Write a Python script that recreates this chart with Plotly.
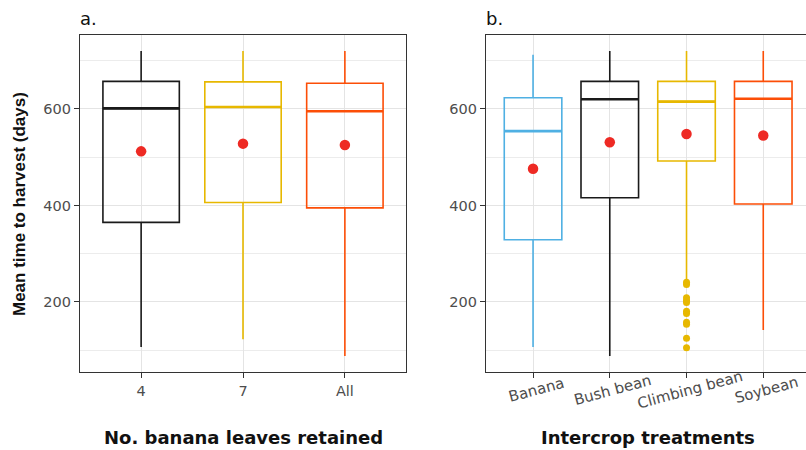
import plotly.graph_objects as go

# Panel a: number of banana leaves retained
leaf_groups = ["4", "7", "All"]
leaf_upper = [720, 720, 720]
leaf_q3 = [657, 656, 653]
leaf_median = [601, 604, 595]
leaf_q1 = [365, 406, 395]
leaf_lower = [107, 123, 88]
leaf_mean = [512, 528, 525]
leaf_colors = ["#1a1a1a", "#E7B800", "#FC4E07"]

# Panel b: intercrop treatments
crop_groups = ["Banana", "Bush bean", "Climbing bean", "Soybean"]
crop_upper = [712, 720, 720, 720]
crop_q3 = [623, 657, 657, 657]
crop_median = [554, 620, 615, 621]
crop_q1 = [329, 416, 492, 403]
crop_lower = [107, 88, 245, 142]
crop_mean = [476, 531, 548, 545]
crop_colors = ["#4FB0E3", "#1a1a1a", "#E7B800", "#FC4E07"]
climbing_outliers = [241, 236, 209, 203, 199, 181, 176, 158, 154, 125, 105]

y_ticks = [200, 400, 600]
y_minor = [100, 300, 500, 700]

MEAN_COLOR = "#EE2A24"
W, H = 806, 450

fig = go.Figure()


def add_boxes(groups, q1, med, q3, lo, hi, colors, xa, ya):
    for g, a, m, b, l, u, c in zip(groups, q1, med, q3, lo, hi, colors):
        fig.add_trace(go.Box(
            x=[g], q1=[a], median=[m], q3=[b], lowerfence=[l], upperfence=[u],
            width=0.75, whiskerwidth=0, boxpoints=False,
            fillcolor="rgba(255,255,255,0)", line=dict(color=c, width=1.6),
            showlegend=False, hoverinfo="skip", xaxis=xa, yaxis=ya,
        ))
        # heavier median bar drawn as a collapsed box at the median
        fig.add_trace(go.Box(
            x=[g], q1=[m], median=[m], q3=[m], lowerfence=[m], upperfence=[m],
            width=0.75, whiskerwidth=0, boxpoints=False,
            fillcolor="rgba(255,255,255,0)", line=dict(color=c, width=2.6),
            showlegend=False, hoverinfo="skip", xaxis=xa, yaxis=ya,
        ))


add_boxes(leaf_groups, leaf_q1, leaf_median, leaf_q3, leaf_lower, leaf_upper,
          leaf_colors, "x", "y")
add_boxes(crop_groups, crop_q1, crop_median, crop_q3, crop_lower, crop_upper,
          crop_colors, "x2", "y2")

# Outliers of the climbing bean treatment
fig.add_trace(go.Scatter(
    x=["Climbing bean"] * len(climbing_outliers), y=climbing_outliers,
    mode="markers", marker=dict(color=crop_colors[2], size=7),
    showlegend=False, xaxis="x2", yaxis="y2",
))

# Group means
fig.add_trace(go.Scatter(x=leaf_groups, y=leaf_mean, mode="markers",
                         marker=dict(color=MEAN_COLOR, size=10.5),
                         showlegend=False, xaxis="x", yaxis="y"))
fig.add_trace(go.Scatter(x=crop_groups, y=crop_mean, mode="markers",
                         marker=dict(color=MEAN_COLOR, size=10.5),
                         showlegend=False, xaxis="x2", yaxis="y2"))

tick_font = dict(family="DejaVu Sans", size=14.5, color="#4d4d4d")
grid = "#E4E4E4"
border = "#333333"
y_dom = [1 - 372 / H, 1 - 35 / H]
y_range = [55, 753]

common_x = dict(type="category", showline=True, mirror=True, linecolor=border,
                linewidth=1.3, ticks="outside", ticklen=5, tickcolor=border,
                showgrid=True, gridcolor=grid, zeroline=False, tickfont=tick_font)
common_y = dict(range=y_range, domain=y_dom, tickvals=y_ticks, showline=True,
                linecolor=border, linewidth=1.3, ticks="outside", ticklen=5,
                tickcolor=border, showgrid=True, gridcolor=grid, zeroline=False,
                tickfont=tick_font,
                minor=dict(tickvals=y_minor, showgrid=True, gridcolor="#ECECEC",
                           ticks=""))

fig.update_layout(
    width=W, height=H,
    margin=dict(l=0, r=0, t=0, b=0),
    paper_bgcolor="white", plot_bgcolor="white",
    xaxis=dict(common_x, domain=[80 / W, 406 / W], range=[-0.6, 2.6],
               anchor="y", categoryorder="array", categoryarray=leaf_groups),
    yaxis=dict(common_y, anchor="x", mirror=True),
    xaxis2=dict(common_x, domain=[486 / W, 1.0], range=[-0.613, 3.557],
                anchor="y2", showticklabels=False,
                categoryorder="array", categoryarray=crop_groups),
    yaxis2=dict(common_y, anchor="x2", mirror=False),
)

annotations = [
    dict(text="a.", x=78 / W, y=1 - 18 / H, xref="paper", yref="paper",
         xanchor="left", yanchor="middle", showarrow=False,
         font=dict(family="DejaVu Sans", size=18, color="#111")),
    dict(text="b.", x=484 / W, y=1 - 18 / H, xref="paper", yref="paper",
         xanchor="left", yanchor="middle", showarrow=False,
         font=dict(family="DejaVu Sans", size=18, color="#111")),
    dict(text="<b>No. banana leaves retained</b>", x=243 / W, y=1 - 437 / H,
         xref="paper", yref="paper", xanchor="center", yanchor="middle",
         showarrow=False, font=dict(family="DejaVu Sans", size=18, color="#111")),
    dict(text="<b>Intercrop treatments</b>", x=648 / W, y=1 - 437 / H,
         xref="paper", yref="paper", xanchor="center", yanchor="middle",
         showarrow=False, font=dict(family="DejaVu Sans", size=18, color="#111")),
    dict(text="<b>Mean time to harvest (days)</b>", x=19 / W, y=1 - 204 / H,
         xref="paper", yref="paper", xanchor="center", yanchor="middle",
         textangle=-90, showarrow=False,
         font=dict(family="Liberation Sans, Arial, sans-serif", size=17,
                   color="#111")),
]
# Slanted category labels for the intercrop panel
for g in crop_groups:
    annotations.append(dict(
        text=g, x=g, y=1 - 390 / H, xref="x2", yref="paper",
        xanchor="center", yanchor="middle", xshift=3, textangle=-15,
        showarrow=False, font=dict(family="DejaVu Sans", size=15, color="#4d4d4d"),
    ))
fig.update_layout(annotations=annotations)

fig.write_html("out.html")
